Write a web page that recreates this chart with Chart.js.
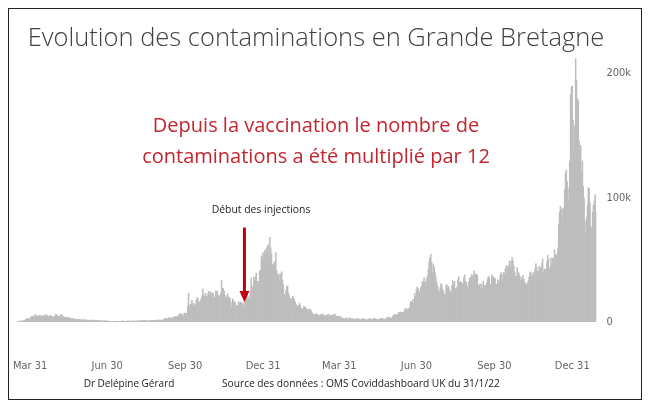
<!DOCTYPE html>
<html>
<head>
<meta charset="utf-8">
<script src="https://cdn.jsdelivr.net/npm/chart.js@4"></script>
<style>
  html, body { margin: 0; padding: 0; background: #fff; }
  #wrap { position: relative; width: 650px; height: 409px; overflow: hidden; }
  #frame { position: absolute; left: 8px; top: 8px; width: 632px; height: 390px; border: 1px solid #222; }
  canvas { position: absolute; left: 0; top: 0; }
  .txt { position: absolute; white-space: nowrap; line-height: 1; font-family: "Open Sans", sans-serif; }
  #title { left: 316px; top: 24px; transform: translateX(-50%); font-size: 25.5px; font-weight: 300; color: #404040; }
  .red { left: 316px; transform: translateX(-50%); font-size: 20px; color: #c3262e; }
  #l1 { top: 115px; }
  #l2 { top: 146px; }
  #inj { left: 261px; top: 204px; transform: translateX(-50%); font-size: 10.4px; color: #222; }
  #author { left: 129px; top: 378px; transform: translateX(-50%); font-size: 10px; color: #222; }
  #source { left: 222px; top: 378px; font-size: 10.2px; color: #222; }
</style>
</head>
<body>
<div id="wrap">
  <div id="frame"></div>
  <canvas id="cases" width="650" height="409"></canvas>
  <div class="txt" id="title">Evolution des contaminations en Grande Bretagne</div>
  <div class="txt red" id="l1">Depuis la vaccination le nombre de</div>
  <div class="txt red" id="l2">contaminations a été multiplié par 12</div>
  <div class="txt" id="inj">Début des injections</div>
  <div class="txt" id="author">Dr Delépine Gérard</div>
  <div class="txt" id="source">Source des données : OMS Coviddashboard UK du 31/1/22</div>
</div>
<script>
// daily new cases, in thousands (first day 16 March 2020)
const startDate = '2020-03-16';
const mar2020 = [0.2,0.4,0.7,0.6,0.7,1.0,0.7,1.0,1.4,1.5,2.1,2.9,2.5,2.4,3.0,2.6];
const apr2020 = [4.3,4.2,4.8,4.5,3.8,5.9,5.5,4.3,4.3,5.3,5.2,4.3,5.3,4.9,4.7,4.3,5.6,4.6,5.9,5.3,4.5,4.3,4.5,5.4,4.9,4.3,4.3,3.9,4.1,6.0];
const may2020 = [6.2,5.0,4.8,4.3,4.0,5.6,6.1,5.0,4.6,4.0,3.9,3.4,3.5,3.6,3.6,3.5,3.1,2.7,3.0,2.5,2.6,2.3,2.4,2.1,2.0,2.0,1.9,1.9,2.0,1.6,1.9];
const jun2020 = [1.6,1.6,1.9,1.8,1.6,1.6,1.3,1.2,1.4,1.5,1.3,1.5,1.4,1.5,1.0,1.3,1.1,1.2,1.3,1.3,1.2,0.9,0.9,0.7,1.1,1.0,0.9,0.9,0.8,0.7];
const jul2020 = [0.8,0.8,0.6,0.6,0.5,0.4,0.6,0.6,0.6,0.5,0.8,0.6,0.5,0.6,0.5,0.6,0.7,0.8,0.8,0.6,0.4,0.6,0.8,0.8,0.8,0.7,0.7,0.6,0.8,0.8,0.9];
const aug2020 = [0.7,0.7,0.8,0.7,0.9,0.9,0.9,0.9,0.8,1.1,1.1,1.0,1.4,1.4,1.0,1.0,0.7,1.2,0.8,1.2,1.0,1.3,1.3,0.9,1.2,1.0,1.5,1.3,1.1,1.7,1.5];
const sep2020 = [1.3,1.3,1.7,1.8,1.8,3.0,2.9,2.4,2.7,2.9,3.5,3.5,3.3,2.6,3.1,3.9,3.4,4.3,4.4,3.9,4.4,4.9,6.2,6.6,6.9,6.0,5.7,4.0,7.1,7.1];
const oct2020 = [6.9,6.9,12.9,23.0,12.6,14.5,14.2,17.5,13.9,15.2,12.9,14.0,17.2,19.7,19.0,15.7,16.2,17.0,18.8,21.3,26.7,21.2,20.5,23.0,19.8,20.9,22.9,24.7,23.1,24.4,21.9];
const nov2020 = [23.3,23.3,18.9,20.0,25.0,24.1,24.9,20.6,21.4,20.4,23.0,33.5,27.3,26.9,25.0,21.4,20.1,19.6,22.9,20.3,19.9,18.7,15.5,11.3,18.6,17.6,16.0,15.9,12.3,13.4];
const dec2020 = [13.4,16.2,14.9,16.3,15.5,15.5,14.7,12.3,16.6,21.0,21.7,21.5,18.4,20.3,18.5,25.2,35.4,28.5,27.1,35.9,33.4,36.8,39.2,32.7,32.7,30.5,41.4,41.4,53.1,50.0,55.9];
const jan2021 = [53.3,57.7,55.0,58.8,60.9,62.3,52.6,68.1,59.9,54.9,46.2,45.5,47.5,48.7,55.8,41.3,38.6,37.5,33.4,38.9,37.9,40.3,33.6,30.0,22.2,20.1,25.3,28.7,29.1,23.3,21.1];
const feb2021 = [18.6,16.8,19.2,20.6,19.1,18.3,15.8,14.1,12.4,13.0,13.5,15.1,13.3,11.0,9.8,10.6,12.7,12.1,12.0,10.4,9.8,10.6,8.5,9.9,10.0,8.5,7.4,6.0];
const mar2021 = [5.5,6.4,5.8,6.6,6.1,6.0,5.2,4.7,5.8,5.9,6.6,5.5,5.5,4.6,5.1,5.3,5.8,6.3,4.8,5.6,4.7,5.3,5.4,5.6,6.4,6.2,3.9,4.7,4.7,4.1,4.1];
const apr2021 = [4.5,4.0,3.4,2.3,2.8,2.4,2.6,3.0,3.2,2.6,1.7,3.6,2.5,2.5,2.7,2.6,2.2,1.9,2.5,2.5,2.4,2.4,2.6,2.0,1.7,2.1,2.7,2.2,2.6,2.4];
const may2021 = [1.7,1.8,1.7,2.0,2.6,2.5,2.5,2.0,1.8,2.4,2.7,2.3,2.7,2.2,2.0,1.9,2.2,2.4,2.9,2.9,2.8,2.2,1.8,2.4,2.5,3.2,3.5,4.2,3.2,3.2,3.4];
const jun2021 = [3.2,4.3,5.3,6.2,5.8,5.3,5.7,6.0,7.5,7.4,8.1,7.7,7.5,7.7,7.7,9.1,11.0,10.5,10.3,9.3,10.6,11.6,16.1,16.7,15.8,18.3,14.9,22.9,20.5,26.1];
const jul2021 = [28.0,27.1,24.9,24.2,27.3,28.8,32.5,32.6,35.7,32.4,31.8,34.5,36.7,42.3,48.6,51.9,54.7,48.2,40.0,46.6,44.1,39.9,36.4,31.8,29.2,25.0,23.5,27.7,31.1,29.6,26.1];
const aug2021 = [24.5,22.0,21.7,29.3,30.2,27.7,28.6,26.0,24.3,23.5,29.6,33.1,29.5,32.7,26.8,26.9,28.4,33.9,36.6,32.1,32.3,31.9,31.0,30.8,35.8,38.0,32.4,32.0,26.5,29.2,32.2];
const sep2021 = [35.7,35.6,38.2,37.6,37.0,41.2,37.5,39.0,38.1,37.6,29.5,29.2,30.8,26.6,30.6,26.9,32.7,29.6,29.1,29.6,31.6,34.5,36.7,35.6,30.3,29.6,38.0,34.5,36.7,35.1];
const oct2021 = [35.0,30.3,30.4,33.9,31.6,33.9,38.2,40.0,37.9,32.8,40.2,38.5,42.8,45.1,44.9,43.4,45.1,49.2,43.7,49.1,52.0,49.3,45.0,40.0,36.6,36.9,43.9,39.8,39.3,37.0,33.2];
const nov2021 = [36.1,33.9,37.3,34.3,32.0,30.3,30.2,31.3,32.9,35.9,39.4,40.4,38.0,36.5,39.7,37.0,42.8,46.8,44.2,40.9,40.0,44.9,42.5,43.7,47.2,50.9,39.6,42.6,42.6,39.7];
const dec2021 = [48.4,53.9,50.6,42.4,44.0,51.5,45.7,51.3,50.9,58.2,54.1,53.0,54.7,59.6,78.6,88.4,93.0,90.4,82.9,91.7,90.6,106.1,119.8,122.2,113.0,108.0,98.5,129.5,183.0,189.2,189.8];
const jan2022 = [162.6,137.6,157.8,212.0,194.7,179.8,178.3,146.4,141.5,142.2,120.8,129.6,109.1,99.7,81.7,70.9,84.4,94.4,108.1,107.4,95.8,76.8,74.8,88.4,94.3,96.9,102.3,89.2];

const cases = [].concat(mar2020, apr2020, may2020, jun2020, jul2020, aug2020, sep2020, oct2020, nov2020, dec2020,
  jan2021, feb2021, mar2021, apr2021, may2021, jun2021, jul2021, aug2021, sep2021, oct2021, nov2021, dec2021, jan2022);

const tickDates = ['2020-03-31','2020-06-30','2020-09-30','2020-12-31','2021-03-31','2021-06-30','2021-09-30','2021-12-31'];
const tickLabels = ['Mar 31','Jun 30','Sep 30','Dec 31','Mar 31','Jun 30','Sep 30','Dec 31'];
const yTicks = [0, 100, 200];
const yMax = 220;

// arrow "Début des injections"
const arrowDate = '2020-12-09';
const arrowFrom = 76;
const arrowTo = 16;

// one label per day
const days = [];
const d0 = new Date(startDate + 'T12:00:00Z');
for (let i = 0; i < cases.length; i++) {
  const d = new Date(d0.getTime() + i * 86400000);
  days.push(d.toISOString().slice(0, 10));
}

const axisFont = { family: '"Liberation Sans Narrow", "DejaVu Sans Condensed", sans-serif', size: 11 };

const arrowPlugin = {
  id: 'arrow',
  afterDatasetsDraw(chart) {
    const ctx = chart.ctx;
    const x = chart.scales.x.getPixelForValue(days.indexOf(arrowDate));
    const y1 = chart.scales.y.getPixelForValue(arrowFrom);
    const y2 = chart.scales.y.getPixelForValue(arrowTo);
    ctx.save();
    ctx.strokeStyle = '#c0000f';
    ctx.fillStyle = '#c0000f';
    ctx.lineWidth = 3;
    ctx.beginPath();
    ctx.moveTo(x, y1);
    ctx.lineTo(x, y2 - 9);
    ctx.stroke();
    ctx.beginPath();
    ctx.moveTo(x - 5, y2 - 11);
    ctx.lineTo(x + 5, y2 - 11);
    ctx.lineTo(x, y2);
    ctx.closePath();
    ctx.fill();
    ctx.restore();
  }
};

new Chart(document.getElementById('cases'), {
  type: 'bar',
  data: {
    labels: days,
    datasets: [{
      data: cases,
      backgroundColor: '#bdbdbd',
      borderWidth: 0,
      barPercentage: 1,
      categoryPercentage: 1
    }]
  },
  options: {
    responsive: false,
    animation: false,
    devicePixelRatio: 1,
    layout: { padding: { left: 17, right: 3.6, top: 48.6, bottom: 27 } },
    plugins: { legend: { display: false }, tooltip: { enabled: false } },
    scales: {
      x: {
        // grid hidden; tickLength only pushes the labels down
        grid: { display: false, tickLength: 38 },
        border: { display: false },
        afterFit(scale) { scale.height = 60; },
        ticks: {
          autoSkip: false,
          maxRotation: 0,
          minRotation: 0,
          padding: 0,
          color: '#666',
          font: axisFont,
          callback(value) {
            const i = tickDates.indexOf(this.getLabelForValue(value));
            return i >= 0 ? tickLabels[i] : '';
          }
        }
      },
      y: {
        position: 'right',
        min: 0,
        max: yMax,
        grid: { display: false },
        border: { display: false },
        afterFit(scale) { scale.width = 50; },
        afterBuildTicks(scale) { scale.ticks = yTicks.map(v => ({ value: v })); },
        ticks: {
          padding: 2,
          color: '#666',
          font: axisFont,
          callback: v => v === 0 ? '0' : v + 'k'
        }
      }
    }
  },
  plugins: [arrowPlugin]
});
</script>
</body>
</html>
